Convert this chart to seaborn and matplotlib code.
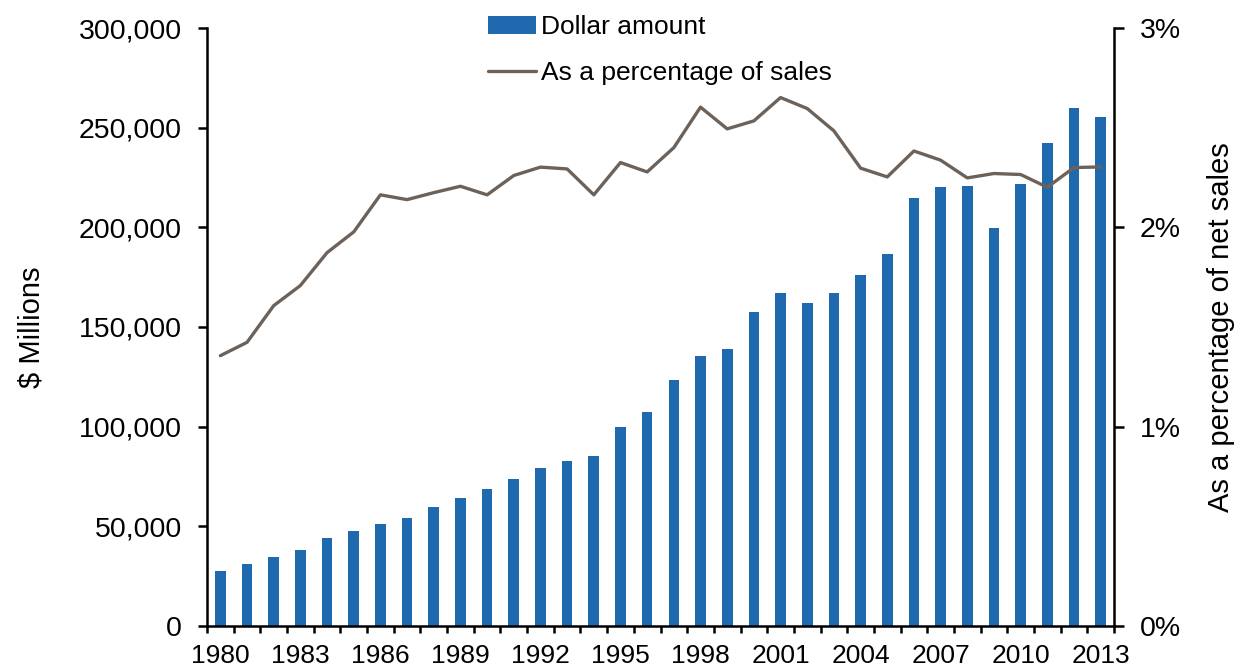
import numpy as np
import pandas as pd
import matplotlib
matplotlib.use("Agg")
import matplotlib.pyplot as plt
import seaborn as sns
from matplotlib.ticker import FixedLocator, FuncFormatter, MultipleLocator
from matplotlib.patches import Patch
from matplotlib.lines import Line2D

# ============================================================
# STYLE
# ============================================================

sns.set_style("ticks")
plt.rcParams["font.family"] = ["Liberation Sans", "DejaVu Sans"]
plt.rcParams["font.size"] = 20
plt.rcParams["text.color"] = "black"
plt.rcParams["axes.labelcolor"] = "black"
plt.rcParams["xtick.color"] = "black"
plt.rcParams["ytick.color"] = "black"

BAR_COLOR = "#1f6aae"
LINE_COLOR = "#6d625a"

# ============================================================
# DATA
# ============================================================

YEARS = list(range(1980, 2014))

DOLLARS = [
    27400, 31100, 34500, 38100, 44300, 47700, 51000, 54000, 59700, 64400,
    68900, 73700, 79300, 82800, 85300, 99800, 107300, 123400, 135500, 139000,
    157500, 167000, 162000, 167300, 176300, 186700, 214900, 220000, 220900, 199800,
    221900, 242500, 259900, 255200
]

PCT = [
    1.356, 1.423, 1.607, 1.708, 1.873, 1.977, 2.163, 2.139, 2.174, 2.206,
    2.163, 2.260, 2.302, 2.293, 2.163, 2.325, 2.278, 2.400, 2.603, 2.494,
    2.534, 2.651, 2.596, 2.484, 2.297, 2.253, 2.383, 2.337, 2.248, 2.270,
    2.265, 2.201, 2.300, 2.303
]

df = pd.DataFrame({
    "Year": [str(y) for y in YEARS],
    "Dollars": DOLLARS,
    "Pct": [p / 100 for p in PCT],
})

# ============================================================
# FIGURE
# ============================================================

fig = plt.figure(figsize=(12.41, 6.71), dpi=100)
ax = fig.add_axes([207 / 1241, 1 - 626 / 671, 907 / 1241, 598 / 671])

sns.barplot(
    data=df, x="Year", y="Dollars",
    color=BAR_COLOR, saturation=1, width=0.4,
    linewidth=0, ax=ax
)

ax2 = ax.twinx()
sns.lineplot(
    data=df, x="Year", y="Pct",
    color=LINE_COLOR, linewidth=2.4, ax=ax2
)

# ---------- left axis ----------
ax.set_ylim(0, 300000)
ax.yaxis.set_major_locator(MultipleLocator(50000))
ax.yaxis.set_major_formatter(FuncFormatter(lambda v, p: f"{v:,.0f}"))
ax.set_ylabel("$ Millions", fontsize=21, labelpad=24)
ax.set_xlabel("")

# ---------- x axis ----------
n = len(df)
ax.set_xlim(-0.5, n - 0.5)
ax.set_xticks(range(0, n, 3))
ax.set_xticklabels(df["Year"].iloc[::3], fontsize=19)
ax.xaxis.set_minor_locator(FixedLocator(np.arange(-0.5, n, 1.0)))
ax.tick_params(axis="x", which="major", length=0, pad=13)
ax.tick_params(axis="x", which="minor", length=5, width=1.8, direction="out")
ax.tick_params(axis="y", length=6.5, width=1.8, pad=11.5, labelsize=20.5)

# ---------- right axis ----------
ax2.set_ylim(0, 0.03)
ax2.yaxis.set_major_locator(MultipleLocator(0.01))
ax2.yaxis.set_major_formatter(FuncFormatter(lambda v, p: f"{v * 100:.0f}%"))
ax2.set_ylabel("As a percentage of net sales", fontsize=21, labelpad=19)
ax2.set_xlabel("")
ax2.tick_params(axis="y", length=7, width=1.8, pad=11.5, labelsize=20.5)

# ---------- spines ----------
for s in ["top", "right"]:
    ax.spines[s].set_visible(False)
for s in ["top", "left", "bottom"]:
    ax2.spines[s].set_visible(False)
for s in ["left", "bottom"]:
    ax.spines[s].set_linewidth(1.8)
    ax.spines[s].set_color("black")
ax2.spines["right"].set_linewidth(1.8)
ax2.spines["right"].set_color("black")

# ---------- legend ----------
handles = [
    Patch(facecolor=BAR_COLOR, edgecolor="none"),
    Line2D([0], [0], color=LINE_COLOR, linewidth=2.4),
]
fig.legend(
    handles, ["Dollar amount", "As a percentage of sales"],
    loc="upper left", bbox_to_anchor=(488 / 1241, 1 - 15 / 671),
    frameon=False, fontsize=19, borderpad=0, borderaxespad=0,
    handlelength=1.8, handletextpad=0.2, labelspacing=0.85
)

fig.savefig("out.png", dpi=100)
